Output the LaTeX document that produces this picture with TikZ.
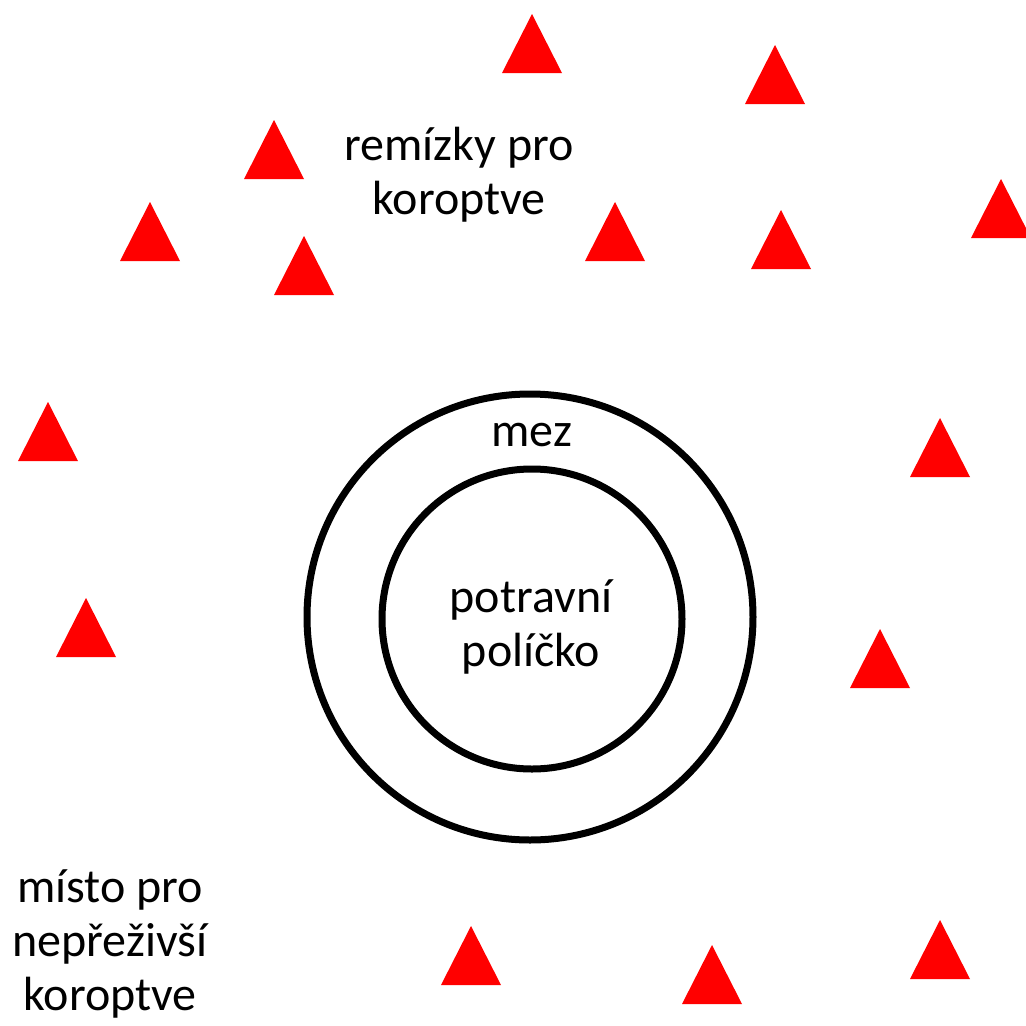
\documentclass[tikz,border=0pt]{standalone}
\usepackage{fontspec}
\setmainfont{Carlito}
\tikzset{
  tri/.style={fill={rgb,255:red,255;green,0;blue,0}, draw=none},
  ring/.style={draw=black, line width=7pt},
  lbl/.style={anchor=base, inner sep=0pt, font=\fontsize{48}{56}\selectfont}
}
\newcommand{\mytri}[2]{\fill[tri] (#1,#2) -- ++(-30,59) -- ++(60,0) -- cycle;}
\begin{document}
\begin{tikzpicture}[x=1pt,y=-1pt]
\useasboundingbox (0,0) rectangle (1026,1026);
\clip (0,0) rectangle (1026,1026);
\fill[white] (0,0) rectangle (1026,1026);
\mytri{532}{14}
\mytri{775}{45}
\mytri{274}{120}
\mytri{150}{202}
\mytri{304}{236}
\mytri{615}{202}
\mytri{781}{210}
\mytri{1001}{179}
\mytri{48}{402}
\mytri{940}{418}
\mytri{86}{598}
\mytri{880}{629}
\mytri{471}{926}
\mytri{712}{945}
\mytri{940}{920}
\node[ring, circle, minimum size=446pt, inner sep=0pt] (outer) at (530,617) {};
\node[ring, circle, minimum size=300pt, inner sep=0pt] (inner) at (532,619) {};
\node[lbl] (r1) at (459,160) {remízky pro};
\node[lbl] (r2) at (459,214) {koroptve};
\node[lbl] (mez) at (532,446) {mez};
\node[lbl] (p1) at (531,612) {potravní};
\node[lbl] (p2) at (531,666) {políčko};
\node[lbl] (m1) at (110,902) {místo pro};
\node[lbl] (m2) at (110,956) {nepřeživší};
\node[lbl] (m3) at (110,1010) {koroptve};
\end{tikzpicture}
\end{document}
